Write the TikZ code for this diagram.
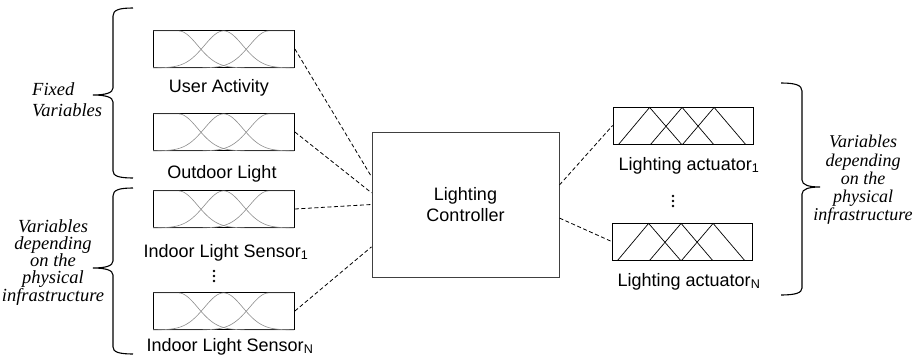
\documentclass[tikz,border=0pt]{standalone}
\usepackage{fontspec}
\setmainfont{Liberation Sans}
\newfontfamily\timesfont{Liberation Serif}
\usetikzlibrary{calc}
\newcommand\mfGauss[1]{%
 \begin{scope}[shift={(#1.south west)}]
  \draw[mf] plot[domain=0:141,samples=90,smooth] (\x,{-37*exp(-((max(\x-25.4,0))^2)/737)});
  \draw[mf] plot[domain=0:141,samples=90,smooth] (\x,{-37*exp(-((\x-70.5)^2)/737)});
  \draw[mf] plot[domain=0:141,samples=90,smooth] (\x,{-37*exp(-((min(\x-115.6,0))^2)/737)});
 \end{scope}}
\newcommand\mfTri[1]{%
 \begin{scope}[shift={(#1.south west)}]
  \draw[tri] (6,0) -- (37,-37) -- (69,0);
  \draw[tri] (38,0) -- (69.5,-37) -- (101,0);
  \draw[tri] (70,0) -- (101.5,-37) -- (133,0);
 \end{scope}}
\tikzset{
  mfbox/.style={draw=black, line width=0.8pt, minimum width=141pt, minimum height=37pt, inner sep=0pt},
  actbox/.style={draw=black, line width=0.8pt, minimum width=140pt, minimum height=37pt, inner sep=0pt},
  ctrlbox/.style={draw=black!75, line width=1pt, minimum width=187pt, minimum height=145pt, align=center, font=\fontsize{18}{20.5}\selectfont},
  lbl/.style={font=\fontsize{18}{21}\selectfont, anchor=base, inner sep=0pt},
  mf/.style={draw=black!45, line width=0.6pt},
  tri/.style={draw=black, line width=0.7pt},
  link/.style={draw=black, line width=0.8pt, dash pattern=on 4pt off 2.5pt},
  bracepath/.style={draw=black, line width=1.1pt},
  grp/.style={inner sep=0pt, align=center},
  dotmark/.style={fill=black}
}
\begin{document}
\begin{tikzpicture}[x=1pt,y=-1pt]
\useasboundingbox (0,0) rectangle (915,356);

% input membership boxes
\node[mfbox] (ua) at (224,49) {};
\node[mfbox] (ol) at (224,132) {};
\node[mfbox] (is1) at (224,209) {};
\node[mfbox] (isn) at (224,311) {};
\mfGauss{ua}\mfGauss{ol}\mfGauss{is1}\mfGauss{isn}

% controller
\node[ctrlbox] (ctrl) at (465.5,204.5) {Lighting\\Controller};

% actuators
\node[actbox] (la1) at (683,125.5) {};
\node[actbox] (lan) at (682,241.5) {};
\mfTri{la1}\mfTri{lan}

% labels
\node[lbl] (ualbl) at (219,92.7) {User Activity};
\node[lbl] (ollbl) at (222,178) {Outdoor Light};
\node[lbl] (is1lbl) at (226,257) {Indoor Light Sensor\textsubscript{1}};
\node[lbl] (isnlbl) at (230,351) {Indoor Light Sensor\textsubscript{N}};
\node[lbl] (la1lbl) at (689,170) {Lighting actuator\textsubscript{1}};
\node[lbl] (lanlbl) at (689,286) {Lighting actuator\textsubscript{N}};

% dots
\fill[dotmark] (214,271) circle (1.3) (214,276) circle (1.3) (214,281) circle (1.3);
\fill[dotmark] (673,196) circle (1.3) (673,201) circle (1.3) (673,206) circle (1.3);

% connectors
\draw[link] (ua.east) -- ($(ctrl.north west)!0.31!(ctrl.south west)$);
\draw[link] (ol.east) -- ($(ctrl.north west)!0.42!(ctrl.south west)$);
\draw[link] (is1.east) -- (ctrl.west);
\draw[link] (isn.east) -- ($(ctrl.north west)!0.79!(ctrl.south west)$);
\draw[link] ($(ctrl.north east)!0.366!(ctrl.south east)$) -- (la1.west);
\draw[link] ($(ctrl.north east)!0.593!(ctrl.south east)$) -- (lan.west);

% braces
\draw[bracepath] (133,8) .. controls (119,8) and (113,10) .. (113,16) -- (113,88)
  .. controls (113,93) and (105,95) .. (93,95) .. controls (105,95) and (113,97) .. (113,102)
  -- (113,171) .. controls (113,176) and (119,178) .. (133,178);
\draw[bracepath] (133,188) .. controls (119,188) and (113,190) .. (113,196) -- (113,261)
  .. controls (113,266) and (105,268) .. (93,268) .. controls (105,268) and (113,270) .. (113,275)
  -- (113,347) .. controls (113,352) and (119,354) .. (133,354);
\draw[bracepath] (781,83) .. controls (795,83) and (802,85) .. (802,91) -- (802,180)
  .. controls (802,185) and (809,187) .. (820,187) .. controls (809,187) and (802,189) .. (802,194)
  -- (802,288) .. controls (802,293) and (795,295) .. (781,295);

% brace texts
\node[grp, anchor=west, align=left, font={\timesfont\itshape\fontsize{18.5}{21}\selectfont}] (fixv) at (32,100) {Fixed\\Variables};
\node[grp, font={\timesfont\itshape\fontsize{18.5}{17}\selectfont}] (physl) at (53,263) {Variables\\depending\\on the\\physical\\infrastructure};
\node[grp, font={\timesfont\itshape\fontsize{18}{18.3}\selectfont}] (physr) at (863,180) {Variables\\depending\\on the\\physical\\infrastructure};
\end{tikzpicture}
\end{document}
